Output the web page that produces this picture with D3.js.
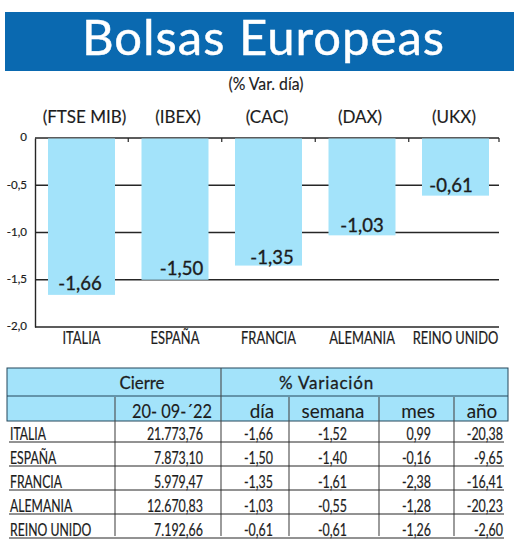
<!DOCTYPE html>
<html><head><meta charset="utf-8">
<script src="https://cdn.jsdelivr.net/npm/d3@7/dist/d3.min.js"></script>
<style>html,body{margin:0;padding:0;background:#fff}svg{display:block}text{fill:#1c1c1c}</style>
</head><body><svg id="c" width="520" height="546"></svg>
<script>
const countries=["ITALIA","ESPAÑA","FRANCIA","ALEMANIA","REINO UNIDO"];
const indices=["(FTSE MIB)","(IBEX)","(CAC)","(DAX)","(UKX)"];
const dayValues=[-1.66,-1.50,-1.35,-1.03,-0.61];
const yTicks=[0,-0.5,-1.0,-1.5,-2.0];
const closes=["21.773,76","7.873,10","5.979,47","12.670,83","7.192,66"];
const dayCol=["-1,66","-1,50","-1,35","-1,03","-0,61"];
const weekCol=["-1,52","-1,40","-1,61","-0,55","-0,61"];
const monthCol=["0,99","-0,16","-2,38","-1,28","-1,26"];
const yearCol=["-20,38","-9,65","-16,41","-20,23","-2,60"];
const subHeads=["día","semana","mes","año"];

const LATO="Lato,'Open Sans',sans-serif";
const fmt=v=>v===0?"0":d3.format(".1f")(v).replace(".",",").replace("−","-");
const svg=d3.select("#c");
const DARK="#262626", BAR="#a3e3fa", BLUE="#0a69b0", EDGE="#24465a";

// places text with a horizontal squeeze, as the reference uses a condensed face
function label(g,txt,xp,yp,size,sx,anchor,extra){
  const t=g.append("text").attr("transform",`translate(${xp},${yp}) scale(${sx},1)`)
    .attr("text-anchor",anchor||"start").attr("font-family",LATO).attr("font-size",size).text(txt);
  if(extra) t.attr("stroke","#1c1c1c").attr("stroke-width",extra);
  return t;
}

svg.append("rect").attr("x",5).attr("y",12).attr("width",509).attr("height",59).attr("fill",BLUE);
svg.append("text").attr("x",263.5).attr("y",55).attr("text-anchor","middle")
  .attr("font-family",LATO).attr("font-size",49).attr("letter-spacing",1)
  .attr("stroke","#fff").attr("stroke-width",.45).style("fill","#fff").text("Bolsas Europeas");
label(svg,"(% Var. día)",266,90,17,.93,"middle",.15);

const x=d3.scaleBand().domain(countries).range([48,489]).paddingInner(0.2834).paddingOuter(0);
const y=d3.scaleLinear().domain([-2,0]).range([327,138]);

// grid
svg.append("g").selectAll("line").data(yTicks.slice(0,4)).join("line")
  .attr("x1",35).attr("x2",499).attr("y1",d=>y(d)).attr("y2",d=>y(d))
  .attr("stroke",DARK).attr("stroke-width",1.4);
// bars
svg.append("g").selectAll("rect").data(dayValues).join("rect")
  .attr("x",(d,i)=>x(countries[i])).attr("width",x.bandwidth())
  .attr("y",y(0)+.5).attr("height",d=>y(d)-y(0)-.5).attr("fill",BAR);
// axes
const yAxis=d3.axisLeft(y).tickValues(yTicks).tickSize(0).tickPadding(8).tickFormat(fmt);
const gy=svg.append("g").attr("transform","translate(35,0)").call(yAxis);
gy.select(".domain").attr("stroke",DARK).attr("stroke-width",1.4);
gy.selectAll("text").attr("font-family",LATO).attr("font-size",11.5).attr("stroke","#1c1c1c").attr("stroke-width",.2).style("fill","#1c1c1c").attr("dy","0.25em");
const gx=svg.append("g").attr("transform","translate(0,327)").call(d3.axisBottom(x).tickSize(0).tickFormat(""));
gx.select(".domain").remove();
svg.append("line").attr("x1",35).attr("x2",499).attr("y1",327).attr("y2",327).attr("stroke",DARK).attr("stroke-width",1.4);
const xl=svg.append("g");
countries.forEach(c=>label(xl,c,x(c)+x.bandwidth()/2,344,17,.76,"middle",.2));
// top separators
const sep=countries.slice(1).map(c=>x(c)-x.step()*0.2834/2).concat([x(countries[4])+x.bandwidth()+10]);
svg.append("g").selectAll("line").data(sep).join("line")
  .attr("x1",d=>d).attr("x2",d=>d).attr("y1",138).attr("y2",142).attr("stroke",DARK).attr("stroke-width",1.2);
// index labels
const idxShift=[3,3,-1.5,-2,-1.5];
svg.append("g").selectAll("text").data(indices).join("text")
  .attr("x",(d,i)=>x(countries[i])+x.bandwidth()/2+idxShift[i]).attr("y",123).attr("text-anchor","middle")
  .attr("font-family",LATO).attr("font-size",17).attr("stroke","#1c1c1c").attr("stroke-width",.15).text(d=>d);
// value labels
const lblDx=[-1.5,6.5,3.5,0,-4.5], lblDy=[5,5,2,3,4];
svg.append("g").selectAll("text").data(dayValues).join("text")
  .attr("x",(d,i)=>x(countries[i])+x.bandwidth()/2+lblDx[i]).attr("y",(d,i)=>y(d)-lblDy[i]).attr("text-anchor","middle")
  .attr("font-family",LATO).attr("font-size",18.5).attr("stroke","#1c1c1c").attr("stroke-width",.35).text((d,i)=>dayCol[i]);

// table
const hdr=svg.append("g");
hdr.append("rect").attr("x",7).attr("y",368).attr("width",501).attr("height",53).attr("fill",BAR).attr("stroke",EDGE).attr("stroke-width",1);
hdr.append("line").attr("x1",7).attr("x2",508).attr("y1",396).attr("y2",396).attr("stroke",EDGE);
const rowLines=[442,466,490,514,538];
const rowBase=[439.5,463.5,487.5,511.5,535.5];
[[115,397],[221,368],[289,397],[379,397],[454,397]].forEach(c=>{
  svg.append("line").attr("x1",c[0]).attr("x2",c[0]).attr("y1",c[1]).attr("y2",536).attr("stroke","#4a4a4a").attr("stroke-width",1.1);
});
svg.append("g").selectAll("line").data(rowLines).join("line")
  .attr("x1",9).attr("x2",504).attr("y1",d=>d).attr("y2",d=>d).attr("stroke",DARK).attr("stroke-width",1);
label(svg,"Cierre",142,389,16.5,1.02,"middle",.25);
svg.append("text").attr("x",326.5).attr("y",389).attr("text-anchor","middle").attr("font-family",LATO).attr("font-size",17).attr("letter-spacing",.8).attr("stroke","#1c1c1c").attr("stroke-width",.3).text("% Variación");
label(svg,"20- 09-´22",172,418,20,.82,"middle",.15);
const subX=[262,333,418,482];
subHeads.forEach((s,i)=>label(svg,s,subX[i],418,19.5,.97,"middle",.1));
function col(vals,xp,anchor,sx){
  const g=svg.append("g");
  vals.forEach((d,i)=>label(g,d,xp,rowBase[i],17,sx,anchor,.2));
}
col(countries,10,"start",.72);
col(closes,203,"end",.73);
col(dayCol,273,"end",.73);
col(weekCol,347,"end",.73);
col(monthCol,431,"end",.73);
col(yearCol,503,"end",.73);
</script></body></html>
